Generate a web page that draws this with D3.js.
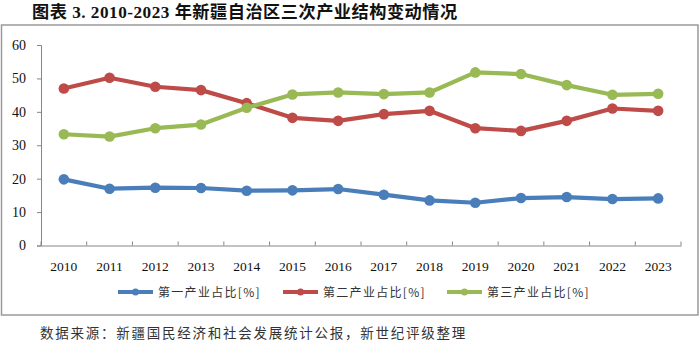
<!DOCTYPE html>
<html><head><meta charset="utf-8">
<script src="https://cdn.jsdelivr.net/npm/d3@7"></script>
<style>body{margin:0;background:#fff;}svg{display:block;}</style>
</head><body>
<svg id="c" width="700" height="341"></svg>
<script>
const years = ["2010","2011","2012","2013","2014","2015","2016","2017","2018","2019","2020","2021","2022","2023"];
const primary = [19.8,17.0,17.3,17.2,16.4,16.5,16.9,15.2,13.5,12.8,14.2,14.5,13.9,14.1];
const secondary = [47.0,50.2,47.5,46.5,42.6,38.2,37.3,39.3,40.3,35.1,34.3,37.3,41.0,40.3];
const tertiary = [33.3,32.6,35.1,36.2,41.2,45.2,45.8,45.3,45.8,51.8,51.3,48.0,45.1,45.4];
const seriesNames = ["第一产业占比[%]","第二产业占比[%]","第三产业占比[%]"];
const seriesColors = ["#4a7ebb","#be4b48","#98b954"];
const yTicks = [0,10,20,30,40,50,60];
const titleText = "图表 3. 2010-2023 年新疆自治区三次产业结构变动情况";
const sourceText = "数据来源：新疆国民经济和社会发展统计公报，新世纪评级整理";

const svg = d3.select("#c");
const serif = "'Liberation Serif','Times New Roman','Noto Sans CJK SC',serif";
const cjk = "'Noto Sans CJK SC','Noto Sans CJK JP',sans-serif";

// title
svg.append("text").attr("x",32).attr("y",18)
  .attr("font-family",serif).attr("font-weight","bold").attr("font-size",17.2)
  .attr("letter-spacing",0.5).attr("fill","#111").text(titleText);

// frame
svg.append("rect").attr("x",1.5).attr("y",25).attr("width",696.5).attr("height",290)
  .attr("fill","none").attr("stroke","#9a9a9a").attr("stroke-width",1.5);

const x = d3.scaleBand().domain(years).range([41,681]);
const y = d3.scaleLinear().domain([0,60]).range([245.5,45]);
const axisColor = "#868686";

// y axis
const gy = svg.append("g").attr("transform","translate(41,0)")
  .call(d3.axisLeft(y).tickValues(yTicks).tickSize(4).tickPadding(11));
gy.select(".domain").attr("stroke",axisColor);
gy.selectAll(".tick line").attr("stroke",axisColor);
gy.selectAll("text").attr("font-family",serif).attr("font-size",14).attr("fill","#111");

// x axis
const gx = svg.append("g").attr("transform","translate(0,245.5)")
  .call(d3.axisBottom(x).tickSize(0).tickPadding(16));
gx.select(".domain").attr("stroke",axisColor);
gx.selectAll("text").attr("font-family",serif).attr("font-size",13.5).attr("fill","#111");
// boundary tick marks
const bounds = years.map(d=>x(d)).concat([x(years[years.length-1])+x.bandwidth()]);
svg.append("g").selectAll("line").data(bounds).join("line")
  .attr("x1",d=>d).attr("x2",d=>d).attr("y1",241.5).attr("y2",245.5)
  .attr("stroke",axisColor);

const data = [primary, secondary, tertiary];
const cx = d => x(d)+x.bandwidth()/2;
const line = d3.line().x((v,i)=>cx(years[i])).y(v=>y(v));

data.forEach((vals,k)=>{
  svg.append("path").datum(vals).attr("d",line).attr("fill","none")
    .attr("stroke",seriesColors[k]).attr("stroke-width",4.2).attr("stroke-linejoin","round");
  svg.append("g").selectAll("circle").data(vals).join("circle")
    .attr("cx",(v,i)=>cx(years[i])).attr("cy",v=>y(v)).attr("r",5.3)
    .attr("fill",seriesColors[k]);
});

// legend
const legX = [118,283,447];
seriesNames.forEach((n,k)=>{
  const g = svg.append("g").attr("transform",`translate(${legX[k]},292)`);
  g.append("line").attr("x1",0).attr("x2",35).attr("y1",0).attr("y2",0)
    .attr("stroke",seriesColors[k]).attr("stroke-width",4);
  g.append("circle").attr("cx",17.5).attr("cy",0).attr("r",3.5).attr("fill",seriesColors[k]);
  g.append("text").attr("x",40).attr("y",4.5).attr("font-family",cjk)
    .attr("font-size",12).attr("letter-spacing",1.3).attr("fill","#333").text(n);
});

// source
svg.append("text").attr("x",40).attr("y",338).attr("font-family",cjk)
  .attr("font-size",13.5).attr("letter-spacing",1.75).attr("fill","#333").text(sourceText);
</script>
</body></html>
